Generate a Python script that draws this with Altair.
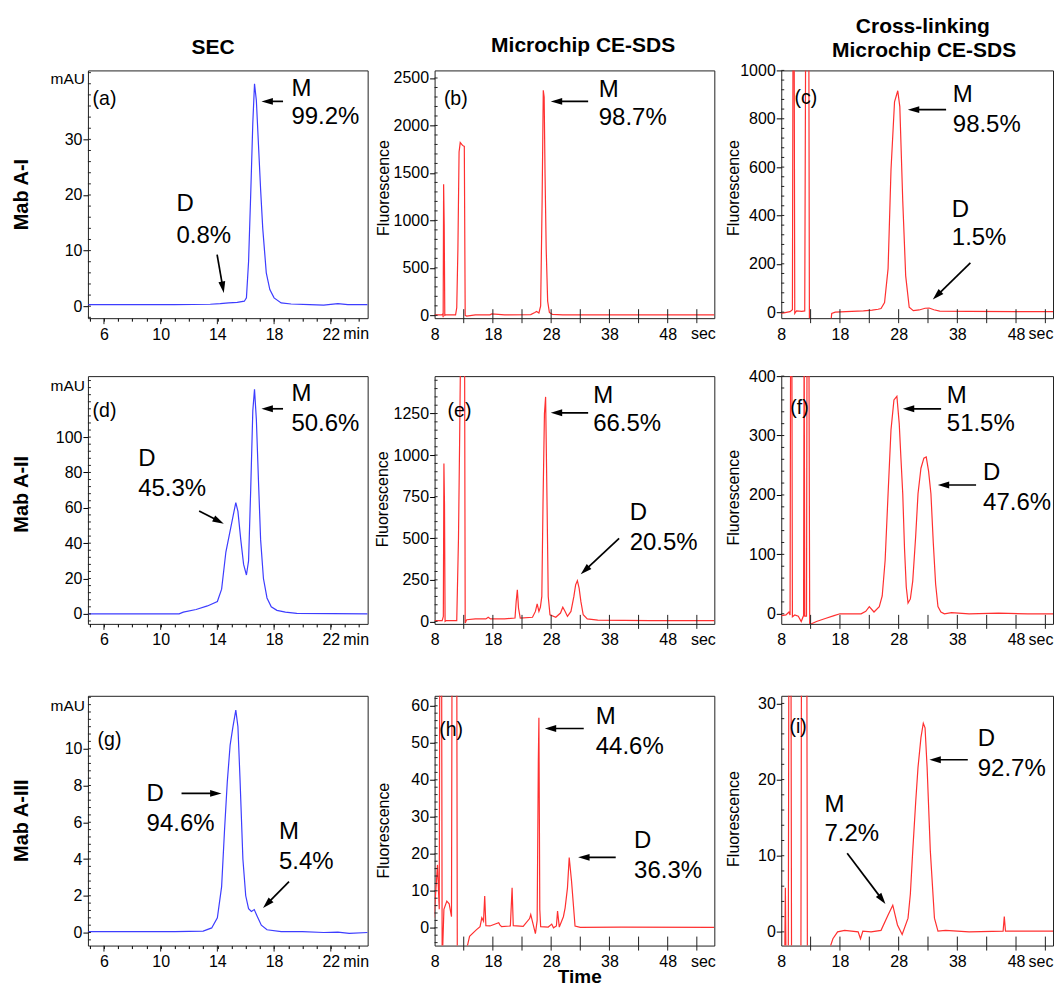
import math
import altair as alt
import pandas as pd

FONT = "Liberation Sans"
ROW_H = [248, 248, 250]
SPACER_H = [48, 62]
BLUE = "#3d3dff"
RED = "#ff3030"
ARROW_PATH = "M0,-1L0.6,1L-0.6,1Z"
HEAD_SIZE = 130

SEC_TICKS = list(range(5, 25))
SEC_MAJOR = [6, 10, 14, 18, 22]
CE_LABELS = [8, 18, 28, 38, 48]
CE_MINOR = [13, 18, 23, 28, 33, 38, 43, 48, 53]

WID = {"sec": 280, "ce": 280, "xl": 272}
XDOM = {"sec": [4.87, 24.6], "ce": [8, 56.0], "xl": [8, 54.3]}

# ---------------- data ----------------
# SEC, Mab A-I
A_T = [4.9, 8, 11, 13.5, 14.2, 14.8, 15.4, 15.9, 16.05, 16.2, 16.35, 16.5, 16.62, 16.75, 16.9, 17.05, 17.2, 17.45, 17.7, 18.0, 18.5, 19.2, 20.5, 21.5, 22.5, 23.2, 24.6]
A_V = [0.3, 0.3, 0.3, 0.35, 0.45, 0.6, 0.7, 0.9, 1.5, 8, 20, 33, 40, 37, 29, 21, 14, 6, 3, 1.5, 0.6, 0.4, 0.3, 0.2, 0.45, 0.3, 0.3]
# SEC, Mab A-II
D_T = [4.9, 11.3, 11.6, 12.5, 13.3, 14.0, 14.3, 14.6, 14.85, 15.1, 15.3, 15.45, 15.65, 15.85, 16.05, 16.2, 16.35, 16.5, 16.62, 16.75, 16.9, 17.05, 17.25, 17.5, 17.8, 18.2, 18.8, 19.6, 24.6]
D_V = [0, 0, 1, 2.5, 4.5, 7, 14, 35, 45, 55, 63, 58, 42, 28, 22, 30, 70, 115, 127, 110, 75, 42, 20, 9, 4, 2, 1, 0.3, 0]
# SEC, Mab A-III
G_T = [4.9, 8, 11, 13.0, 13.6, 14.0, 14.3, 14.5, 14.7, 14.9, 15.1, 15.3, 15.45, 15.6, 15.8, 16.0, 16.2, 16.4, 16.6, 16.8, 17.1, 17.5, 18.5, 20, 21.5, 22.5, 23.3, 24.6]
G_V = [0.05, 0.05, 0.05, 0.08, 0.25, 0.8, 2.5, 5.5, 8.2, 10.2, 11.2, 12.1, 11.2, 8.3, 4.0, 2.0, 1.3, 1.15, 1.25, 0.9, 0.4, 0.15, 0.05, 0.05, 0.0, 0.02, -0.05, 0.0]

# Microchip CE-SDS, Mab A-I
B_T = [8, 9.2, 9.4, 9.47, 9.55, 9.65, 9.75, 9.9, 11.6, 11.8, 12.0, 12.2, 12.4, 12.8, 13.1, 13.25, 13.5, 15, 17.5, 17.8, 20, 24.5, 25.2, 25.5, 25.9, 26.2, 26.45, 26.65, 26.8, 26.95, 27.15, 27.4, 27.7, 28.2, 30, 40, 56]
B_V = [5, 5, 15, -20, 1380, 950, 0, 5, 5, 80, 700, 1720, 1820, 1790, 1780, 0, -8, 5, 5, 15, 5, 8, 30, 40, 25, 100, 1200, 2370, 2300, 1500, 700, 150, 30, 10, 5, 5, 5]
# Microchip CE-SDS, Mab A-II
E_T = [8, 9.3, 9.5, 9.6, 9.7, 9.8, 10.0, 11.8, 12.1, 12.3, 12.45, 12.9, 13.15, 13.25, 13.5, 15, 16.8, 17.2, 17.6, 20, 21.8, 22.0, 22.2, 22.4, 22.7, 24.8, 25.3, 25.6, 25.9, 26.15, 26.4, 26.6, 26.85, 27.05, 27.3, 27.5, 27.8, 28.8, 29.6, 30.0, 30.4, 30.8, 31.4, 31.9, 32.2, 32.5, 32.8, 33.1, 33.5, 34.2, 36, 45, 56]
E_V = [5, 5, 30, 950, 700, 0, 5, 5, 500, 1100, 1600, 1600, 1600, -10, 10, 15, 15, 25, 15, 15, 20, 120, 190, 80, 20, 25, 60, 105, 60, 85, 150, 700, 1250, 1350, 700, 150, 40, 25, 50, 85, 60, 30, 60, 150, 220, 245, 200, 120, 40, 15, 8, 5, 5]
# Microchip CE-SDS, Mab A-III
H_T = [7.9, 8.5, 8.8, 8.9, 9.2, 9.3, 9.6, 10.1, 10.5, 10.9, 11.0, 11.1, 11.8, 11.9, 12.9, 14.0, 15.2, 15.8, 16.1, 16.4, 16.6, 16.8, 17.5, 19.0, 19.2, 19.5, 21.0, 21.3, 21.5, 23.2, 24.3, 24.5, 24.9, 25.3, 25.6, 25.8, 25.9, 26.05, 26.2, 27.5, 28.1, 28.4, 28.9, 29.1, 29.4, 30.1, 30.4, 30.8, 31.1, 31.5, 32.1, 33, 40, 56]
H_V = [2.7, 17, 5, 80, 80, -10, 5, 7.2, 6.5, 3, 80, 80, 80, -10, -10, -2.3, -0.5, 0.3, 2.7, 1.8, 8.6, 0.6, 0.5, 1.4, 0.8, 0.3, 0.5, 10.8, 0.6, 0.4, 2.5, 3.6, 1.0, -1.6, 2, 45, 56.8, 5, 0.3, 0.2, 1.0, 0.0, 0.5, 4.5, 0.2, 3, 5.4, 10.8, 19, 12.6, 0.5, 0.1, 0.2, 0.1]

# Cross-linking microchip CE-SDS, Mab A-I
C_T = [8, 9.5, 9.9, 10.0, 10.2, 10.3, 10.6, 11.5, 12.0, 12.15, 12.25, 12.7, 12.8, 13.0, 16.3, 16.6, 17.2, 19, 22, 23.5, 24.5, 25.0, 25.6, 26.2, 26.7, 27.3, 27.85, 28.2, 28.7, 29.2, 29.8, 30.5, 31.5, 32.5, 33.2, 34.0, 35.0, 40, 48, 55.7]
C_V = [-5, 2, 10, 1100, 1100, -5, 5, 3, 5, 1100, 1100, 1100, -80, -80, -80, -5, 0, 2, 5, 8, 12, 15, 40, 180, 590, 870, 916, 850, 460, 150, 20, 6, 9, 16, 17, 10, 4, 3, 2, 2]
# Cross-linking microchip CE-SDS, Mab A-II
F_T = [8, 8.8, 9.3, 9.5, 9.6, 9.8, 9.9, 10.3, 10.9, 11.4, 11.8, 11.9, 12.0, 12.3, 12.4, 12.7, 12.85, 13.1, 14, 15.5, 17, 18, 21.6, 22.4, 23.0, 23.8, 24.7, 25.2, 25.7, 26.2, 26.7, 27.2, 27.7, 28.1, 28.4, 28.7, 29.0, 29.3, 29.6, 30.0, 30.4, 30.9, 31.3, 31.8, 32.3, 32.7, 33.1, 33.5, 33.9, 34.3, 34.7, 35.2, 35.8, 37, 40, 45, 50, 55.7]
F_V = [-3, -2, 3, -2, 500, 500, -5, -2, -4, -13, -3, 500, -4, -4, 500, 500, -30, -17, -13, -8, -3, 0, 0, 4, 12, 3, 12, 30, 90, 202, 310, 360, 366, 320, 260, 202, 110, 45, 18, 25, 55, 130, 202, 245, 262, 264, 240, 202, 120, 50, 12, 3, 0, 2, 0, 1, 0, 0]
# Cross-linking microchip CE-SDS, Mab A-III
I_T = [8.0, 8.6, 8.7, 8.8, 9.2, 9.3, 9.65, 9.75, 11.35, 11.45, 12.35, 12.45, 15.9, 16.8, 17.6, 18.8, 21.1, 21.5, 21.9, 23.3, 25.0, 26.2, 27.0, 27.8, 28.6, 29.6, 30.0, 30.4, 30.9, 31.3, 31.8, 32.2, 32.5, 32.85, 33.4, 34.1, 34.7, 36, 40, 45.8, 46.0, 46.2, 50, 55.7]
I_V = [-3, -3, 5.8, -3, -3, 40, 40, -3, -3, 40, 40, -3, -3, -0.9, 0.0, 0.2, 0.0, -0.9, 0.1, 0.0, 0.2, 2.2, 3.5, 0.9, -0.35, 1.8, 5.0, 10.6, 17, 21.6, 25.5, 27.4, 26.8, 21.6, 10.6, 1.8, 0.1, 0.2, 0.0, 0.1, 2.0, 0.1, 0.1, 0.1]

# ---------------- panel definitions ----------------
PANELS = [
    dict(kind="sec", t=A_T, v=A_V, ydom=[-2.15, 42.4], yvals=[0, 10, 20, 30], color=BLUE,
         texts=[(4.7, 29, "(a)", "letter"), (-3, 9, "mAU", "mau"),
                (203.7, 19, "M", "big"), (203.7, 47, "99.2%", "big"),
                (88.7, 134, "D", "big"), (88.7, 166, "0.8%", "big"),
                (125.3, -22.3, "SEC", "head"), (-66.3, 124.3, "Mab A-I", "row"),
                (268.5, "U", "min", "unit")],
         arrows=[(195.3, 31, 173.7, 31), (129.3, 184.3, 136, 222.7)]),
    dict(kind="ce", t=B_T, v=B_V, ydom=[-30, 2580], yvals=[0, 500, 1000, 1500, 2000, 2500], color=RED,
         texts=[(9.3, 29, "(b)", "letter"),
                (164.3, 20, "M", "big"), (164.3, 47.7, "98.7%", "big"),
                (148.7, -24, "Microchip CE-SDS", "head"), (-51, 117.7, "Fluorescence", "fluor"),
                (269, "U", "sec", "unit")],
         arrows=[(153.7, 31, 116.3, 31)]),
    dict(kind="xl", t=C_T, v=C_V, ydom=[-25, 1000], yvals=[0, 200, 400, 600, 800, 1000], color=RED,
         texts=[(13.3, 27.7, "(c)", "letter"),
                (171.7, 25, "M", "big"), (171.7, 54.3, "98.5%", "big"),
                (170.7, 139.3, "D", "big"), (170.7, 167.7, "1.5%", "big"),
                (141.7, -43, "Cross-linking", "head"), (143, -19, "Microchip CE-SDS", "head"),
                (-47.5, 117.7, "Fluorescence", "fluor"), (260, "U", "sec", "unit")],
         arrows=[(165, 39.3, 126.7, 39.3), (189.3, 192.7, 151.7, 229.3)]),
    dict(kind="sec", t=D_T, v=D_V, ydom=[-5.65, 134.5], yvals=[0, 20, 40, 60, 80, 100], color=BLUE,
         texts=[(4.7, 35, "(d)", "letter"), (-3, 10, "mAU", "mau"),
                (203.7, 18.3, "M", "big"), (203.7, 48.3, "50.6%", "big"),
                (50.3, 83.3, "D", "big"), (50.3, 113.3, "45.3%", "big"),
                (-66.3, 118.3, "Mab A-II", "row"), (268.5, "U", "min", "unit")],
         arrows=[(195.3, 32.7, 173.7, 32.7), (111.3, 135, 136, 147.7)]),
    dict(kind="ce", t=E_T, v=E_V, ydom=[-15, 1475], yvals=[0, 250, 500, 750, 1000, 1250], color=RED,
         texts=[(13, 35, "(e)", "letter"),
                (158.7, 20, "M", "big"), (158.7, 48.3, "66.5%", "big"),
                (195.3, 136.7, "D", "big"), (195.3, 166.7, "20.5%", "big"),
                (-52, 123.3, "Fluorescence", "fluor"), (269, "U", "sec", "unit")],
         arrows=[(153.7, 36.7, 116.3, 36.7), (184.7, 162.3, 146.3, 198.3)]),
    dict(kind="xl", t=F_T, v=F_V, ydom=[-17, 400], yvals=[0, 100, 200, 300, 400], color=RED,
         texts=[(9, 31.7, "(f)", "letter"),
                (165.7, 20, "M", "big"), (165.7, 48.3, "51.5%", "big"),
                (202, 96.7, "D", "big"), (202, 126.7, "47.6%", "big"),
                (-47.5, 121.7, "Fluorescence", "fluor"), (260, "U", "sec", "unit")],
         arrows=[(160, 32.7, 121.7, 32.7), (195, 109, 156.7, 109)]),
    dict(kind="sec", t=G_T, v=G_V, ydom=[-0.71, 12.88], yvals=[0, 2, 4, 6, 8, 10], color=BLUE,
         texts=[(9.7, 44.3, "(g)", "letter"), (-3, 10, "mAU", "mau"),
                (58.7, 98.3, "D", "big"), (58.7, 128.3, "94.6%", "big"),
                (191.3, 136.7, "M", "big"), (191.3, 166.7, "5.4%", "big"),
                (-66.3, 125, "Mab A-III", "row"), (268.5, "U", "min", "unit")],
         arrows=[(93.7, 97.7, 133.7, 97.7), (201.3, 186, 175.3, 212.3)]),
    dict(kind="ce", t=H_T, v=H_V, ydom=[-4.8, 62.7], yvals=[0, 10, 20, 30, 40, 50, 60], color=RED,
         texts=[(4.7, 34.3, "(h)", "letter"),
                (161.3, 21, "M", "big"), (161.3, 51.7, "44.6%", "big"),
                (199.7, 145, "D", "big"), (199.7, 175, "36.3%", "big"),
                (-50.7, 135, "Fluorescence", "fluor"), (269, "U", "sec", "unit"),
                (145.3, 281, "Time", "time")],
         arrows=[(149.3, 32.7, 110.3, 32.7), (181.3, 161.7, 143.7, 161.7)]),
    dict(kind="xl", t=I_T, v=I_V, ydom=[-1.8, 31], yvals=[0, 10, 20, 30], color=RED,
         texts=[(8.3, 31.7, "(i)", "letter"),
                (196.7, 43.3, "D", "big"), (196.7, 73.3, "92.7%", "big"),
                (43.3, 109, "M", "big"), (43.3, 138.3, "7.2%", "big"),
                (-47.5, 123.3, "Fluorescence", "fluor"), (260, "U", "sec", "unit")],
         arrows=[(186.7, 64, 148.3, 64), (66, 157.7, 104.3, 208.3)]),
]

STYLES = {
    "letter": dict(fontSize=19.5, align="left", baseline="middle"),
    "big": dict(fontSize=24, align="left", baseline="middle"),
    "mau": dict(fontSize=15.5, align="right", baseline="middle"),
    "unit": dict(fontSize=16, align="center", baseline="top"),
    "fluor": dict(fontSize=16, angle=270, align="center", baseline="middle"),
    "head": dict(fontSize=21, fontWeight="bold", align="center", baseline="middle"),
    "row": dict(fontSize=20, fontWeight="bold", angle=270, align="center", baseline="middle"),
    "time": dict(fontSize=19, fontWeight="bold", align="center", baseline="middle"),
}


def sc(dom):
    return alt.Scale(domain=dom, nice=False, zero=False)


def build_panel(p, h):
    kind = p["kind"]
    w = WID[kind]
    xd = XDOM[kind]
    yd = p["ydom"]

    def px2t(px):
        return xd[0] + px / w * (xd[1] - xd[0])

    def py2v(py):
        return yd[1] - py / h * (yd[1] - yd[0])

    common = dict(title=None, grid=False, domain=False, labelFlush=False, labelOverlap=False)
    if kind == "sec":
        xaxis = alt.Axis(values=SEC_TICKS,
                         labelExpr="(datum.value - 6) % 4 == 0 ? datum.label : ''",
                         tickSize=3, labelPadding=5, **common)
    else:
        xaxis = alt.Axis(values=CE_LABELS, ticks=False, tickSize=0, labelPadding=8, **common)
    yaxis = alt.Axis(values=p["yvals"], format="d", tickSize=5, labelPadding=1, **common)

    def ex(f="t"):
        return alt.X(f"{f}:Q", scale=sc(xd), axis=xaxis)

    def ey(f="v"):
        return alt.Y(f"{f}:Q", scale=sc(yd), axis=yaxis)

    tr = pd.DataFrame({"t": p["t"], "v": p["v"]})
    tr["i"] = range(len(tr))
    layers = [alt.Chart(tr).mark_line(color=p["color"], strokeWidth=1.2, clip=True).encode(
        x=ex(), y=ey(), order=alt.Order("i:Q"))]

    # inner minor ticks on the y axis
    step = (p["yvals"][1] - p["yvals"][0]) / 5.0
    k0 = math.ceil(yd[0] / step)
    k1 = math.floor(yd[1] / step)
    ymin = [round(k * step, 6) for k in range(k0, k1 + 1)]
    layers.append(alt.Chart(pd.DataFrame({"v": ymin})).mark_rule(color="#222", strokeWidth=1).encode(
        y=ey(), x=alt.value(0), x2=alt.value(3)))

    if kind == "sec":
        layers.append(alt.Chart(pd.DataFrame({"t": SEC_MAJOR})).mark_rule(
            color="#222", strokeWidth=1).encode(x=ex(), y=alt.value(h), y2=alt.value(h + 6)))
    else:
        layers.append(alt.Chart(pd.DataFrame({"t": CE_MINOR})).mark_rule(
            color="#222", strokeWidth=1).encode(x=ex(), y=alt.value(h - 9), y2=alt.value(h + 5)))

    groups = {}
    for px, py, s, style in p["texts"]:
        if py == "U":
            py = h + 8
        groups.setdefault(style, []).append({"t": px2t(px), "v": py2v(py), "s": s})
    for style, rows in groups.items():
        layers.append(alt.Chart(pd.DataFrame(rows)).mark_text(
            font=FONT, color="black", **STYLES[style]).encode(x=ex(), y=ey(), text="s:N"))

    r = math.sqrt(HEAD_SIZE) / 2
    lines, heads = [], []
    for x1, y1, x2, y2 in p["arrows"]:
        dx, dy = x2 - x1, y2 - y1
        L = math.hypot(dx, dy)
        ux, uy = dx / L, dy / L
        cx, cy = x2 - ux * r, y2 - uy * r
        ang = math.degrees(math.atan2(dx, -dy)) % 360
        lines.append({"t": px2t(x1), "v": py2v(y1), "t2": px2t(cx), "v2": py2v(cy)})
        heads.append({"t": px2t(cx), "v": py2v(cy), "a": ang})
    layers.append(alt.Chart(pd.DataFrame(lines)).mark_rule(color="black", strokeWidth=1.7).encode(
        x=ex(), y=ey(), x2=alt.X2("t2:Q"), y2=alt.Y2("v2:Q")))
    layers.append(alt.Chart(pd.DataFrame(heads)).mark_point(
        shape=ARROW_PATH, filled=True, color="black", size=HEAD_SIZE, opacity=1, strokeWidth=0).encode(
        x=ex(), y=ey(), angle=alt.Angle("a:Q", scale=None)))

    return alt.layer(*layers).properties(width=w, height=h)


def spacer(h, w):
    return alt.Chart(pd.DataFrame({"k": [0]})).mark_point(opacity=0).encode(
        x=alt.value(0), y=alt.value(0)).properties(
        width=w, height=h, view=alt.ViewBackground(strokeOpacity=0))


charts = []
for row in range(3):
    for col in range(3):
        charts.append(build_panel(PANELS[row * 3 + col], ROW_H[row]))
    if row < 2:
        for col in range(3):
            charts.append(spacer(SPACER_H[row], WID[PANELS[col]["kind"]]))

chart = alt.concat(*charts, columns=3, spacing={"row": 5, "column": 67}, bounds="flush").properties(
    padding={"left": 3, "top": 7, "right": 0, "bottom": 0}, background="white"
).configure_view(stroke="#222", strokeWidth=1).configure_axis(
    labelFont=FONT, labelFontSize=16, labelColor="black", tickColor="black", tickWidth=1)

chart.save("out.html", embed_options={"renderer": "svg", "actions": False})
